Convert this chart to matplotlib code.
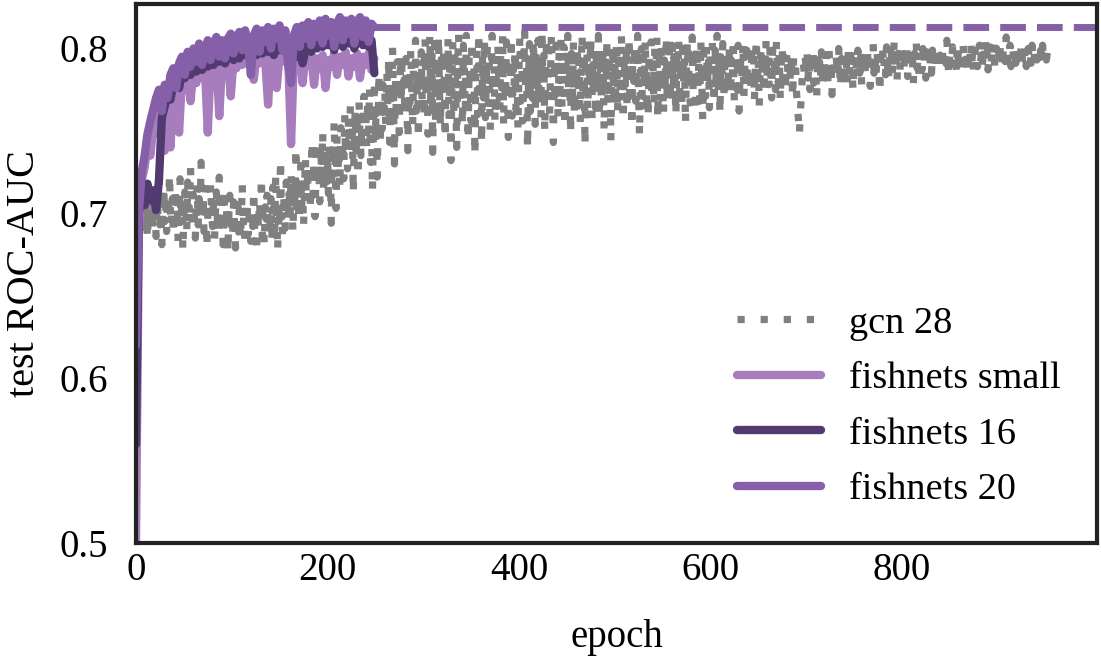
import numpy as np
import matplotlib.pyplot as plt

plt.rcParams['font.family'] = ['Liberation Serif', 'DejaVu Serif']

# test ROC-AUC per epoch, gcn baseline (one value per epoch)
gcn_auc = [
    0.662, 0.681, 0.694, 0.688, 0.702, 0.697, 0.711, 0.693, 0.705, 0.689, 0.716, 0.698, 0.684, 0.707, 0.695, 0.719, 0.701, 0.690, 0.712, 0.696,
    0.703, 0.686, 0.714, 0.699, 0.722, 0.693, 0.708, 0.681, 0.702, 0.717, 0.695, 0.706, 0.689, 0.711, 0.698, 0.724, 0.701, 0.692, 0.709, 0.687,
    0.705, 0.716, 0.694, 0.710, 0.683, 0.700, 0.721, 0.697, 0.706, 0.677, 0.699, 0.713, 0.702, 0.688, 0.719, 0.696, 0.708, 0.728, 0.701, 0.690,
    0.711, 0.698, 0.685, 0.704, 0.717, 0.693, 0.709, 0.700, 0.731, 0.696, 0.712, 0.689, 0.703, 0.715, 0.679, 0.699, 0.707, 0.694, 0.718, 0.701,
    0.692, 0.706, 0.683, 0.700, 0.713, 0.697, 0.688, 0.722, 0.702, 0.694, 0.709, 0.681, 0.698, 0.715, 0.690, 0.704, 0.676, 0.699, 0.711, 0.693,
    0.700, 0.686, 0.707, 0.694, 0.679, 0.698, 0.712, 0.689, 0.702, 0.684, 0.696, 0.718, 0.691, 0.705, 0.680, 0.697, 0.708, 0.687, 0.699, 0.693,
    0.683, 0.701, 0.692, 0.714, 0.688, 0.697, 0.676, 0.703, 0.690, 0.708, 0.695, 0.722, 0.686, 0.699, 0.681, 0.704, 0.693, 0.711, 0.687, 0.700,
    0.694, 0.709, 0.685, 0.716, 0.698, 0.690, 0.724, 0.701, 0.677, 0.706, 0.693, 0.733, 0.699, 0.687, 0.712, 0.703, 0.691, 0.719, 0.708, 0.696,
    0.712, 0.699, 0.725, 0.704, 0.688, 0.717, 0.707, 0.740, 0.701, 0.721, 0.695, 0.713, 0.729, 0.703, 0.718, 0.692, 0.711, 0.734, 0.706, 0.722,
    0.715, 0.731, 0.702, 0.726, 0.744, 0.711, 0.733, 0.698, 0.724, 0.738, 0.716, 0.729, 0.707, 0.741, 0.722, 0.750, 0.713, 0.735, 0.727, 0.719,
    0.737, 0.712, 0.745, 0.729, 0.694, 0.741, 0.722, 0.756, 0.733, 0.703, 0.747, 0.726, 0.739, 0.715, 0.752, 0.731, 0.744, 0.721, 0.760, 0.736,
    0.749, 0.727, 0.758, 0.741, 0.766, 0.734, 0.752, 0.712, 0.745, 0.762, 0.738, 0.755, 0.722, 0.768, 0.747, 0.735, 0.759, 0.743, 0.771, 0.750,
    0.757, 0.739, 0.768, 0.748, 0.776, 0.731, 0.762, 0.713, 0.752, 0.781, 0.744, 0.766, 0.722, 0.759, 0.785, 0.741, 0.770, 0.751, 0.778, 0.763,
    0.774, 0.752, 0.786, 0.765, 0.795, 0.743, 0.779, 0.761, 0.801, 0.769, 0.730, 0.783, 0.757, 0.792, 0.775, 0.749, 0.788, 0.766, 0.797, 0.772,
    0.781, 0.759, 0.794, 0.770, 0.738, 0.786, 0.767, 0.800, 0.777, 0.752, 0.791, 0.773, 0.805, 0.762, 0.784, 0.745, 0.789, 0.776, 0.798, 0.768,
    0.792, 0.758, 0.806, 0.771, 0.799, 0.748, 0.785, 0.809, 0.763, 0.796, 0.737, 0.781, 0.803, 0.755, 0.790, 0.767, 0.808, 0.776, 0.752, 0.798,
    0.765, 0.801, 0.783, 0.745, 0.794, 0.771, 0.807, 0.757, 0.788, 0.732, 0.779, 0.804, 0.761, 0.797, 0.774, 0.740, 0.786, 0.809, 0.768, 0.793,
    0.778, 0.753, 0.802, 0.787, 0.762, 0.808, 0.773, 0.744, 0.795, 0.781, 0.756, 0.805, 0.769, 0.791, 0.735, 0.783, 0.799, 0.760, 0.810, 0.775,
    0.789, 0.742, 0.796, 0.770, 0.806, 0.758, 0.784, 0.801, 0.764, 0.792, 0.750, 0.779, 0.808, 0.772, 0.797, 0.755, 0.787, 0.766, 0.803, 0.780,
    0.761, 0.798, 0.776, 0.809, 0.753, 0.790, 0.769, 0.804, 0.782, 0.746, 0.795, 0.773, 0.807, 0.759, 0.788, 0.777, 0.800, 0.763, 0.793, 0.751,
    0.786, 0.807, 0.768, 0.797, 0.756, 0.782, 0.810, 0.774, 0.791, 0.739, 0.779, 0.803, 0.762, 0.794, 0.770, 0.806, 0.785, 0.754, 0.799, 0.777,
    0.805, 0.767, 0.792, 0.758, 0.811, 0.780, 0.796, 0.749, 0.788, 0.807, 0.771, 0.799, 0.760, 0.784, 0.809, 0.775, 0.743, 0.793, 0.766, 0.802,
    0.781, 0.757, 0.798, 0.774, 0.806, 0.763, 0.789, 0.801, 0.752, 0.795, 0.778, 0.808, 0.769, 0.786, 0.748, 0.797, 0.772, 0.804, 0.760, 0.791,
    0.776, 0.802, 0.765, 0.793, 0.755, 0.787, 0.809, 0.770, 0.799, 0.741, 0.783, 0.805, 0.762, 0.794, 0.779, 0.807, 0.753, 0.790, 0.773, 0.800,
    0.764, 0.796, 0.783, 0.808, 0.758, 0.791, 0.771, 0.803, 0.786, 0.750, 0.797, 0.775, 0.806, 0.766, 0.789, 0.801, 0.744, 0.782, 0.798, 0.769,
    0.794, 0.772, 0.805, 0.760, 0.788, 0.799, 0.767, 0.809, 0.781, 0.756, 0.796, 0.776, 0.802, 0.763, 0.790, 0.807, 0.771, 0.785, 0.752, 0.797,
    0.780, 0.803, 0.768, 0.792, 0.808, 0.774, 0.747, 0.786, 0.800, 0.762, 0.795, 0.778, 0.806, 0.769, 0.789, 0.758, 0.798, 0.783, 0.804, 0.771,
    0.791, 0.765, 0.801, 0.779, 0.807, 0.757, 0.787, 0.796, 0.770, 0.805, 0.782, 0.760, 0.793, 0.776, 0.808, 0.766, 0.790, 0.799, 0.773, 0.784,
    0.802, 0.769, 0.795, 0.781, 0.759, 0.798, 0.786, 0.806, 0.772, 0.791, 0.763, 0.800, 0.778, 0.794, 0.754, 0.788, 0.804, 0.775, 0.797, 0.767,
    0.789, 0.807, 0.773, 0.796, 0.761, 0.784, 0.802, 0.777, 0.793, 0.768, 0.805, 0.782, 0.757, 0.798, 0.786, 0.771, 0.801, 0.779, 0.794, 0.764,
    0.797, 0.776, 0.804, 0.785, 0.766, 0.799, 0.781, 0.808, 0.772, 0.792, 0.760, 0.795, 0.783, 0.803, 0.769, 0.790, 0.778, 0.800, 0.774, 0.787,
    0.801, 0.771, 0.793, 0.782, 0.806, 0.767, 0.790, 0.798, 0.775, 0.802, 0.762, 0.786, 0.796, 0.779, 0.804, 0.770, 0.792, 0.784, 0.799, 0.776,
    0.788, 0.803, 0.774, 0.795, 0.781, 0.800, 0.768, 0.791, 0.806, 0.777, 0.794, 0.765, 0.789, 0.801, 0.783, 0.797, 0.772, 0.792, 0.805, 0.780,
    0.796, 0.778, 0.802, 0.786, 0.770, 0.799, 0.784, 0.793, 0.775, 0.804, 0.789, 0.779, 0.797, 0.768, 0.791, 0.801, 0.782, 0.795, 0.773, 0.787,
    0.798, 0.785, 0.792, 0.779, 0.794, 0.788, 0.770, 0.796, 0.783, 0.790, 0.773, 0.765, 0.756, 0.748, 0.762, 0.771, 0.783, 0.791, 0.786, 0.795,
    0.789, 0.797, 0.782, 0.793, 0.775, 0.791, 0.786, 0.800, 0.779, 0.794, 0.788, 0.770, 0.795, 0.784, 0.792, 0.781, 0.798, 0.787, 0.776, 0.793,
    0.785, 0.796, 0.790, 0.778, 0.799, 0.784, 0.792, 0.772, 0.795, 0.788, 0.781, 0.797, 0.791, 0.783, 0.800, 0.787, 0.776, 0.794, 0.789, 0.782,
    0.796, 0.786, 0.792, 0.779, 0.798, 0.790, 0.784, 0.801, 0.788, 0.774, 0.795, 0.787, 0.793, 0.781, 0.799, 0.791, 0.785, 0.797, 0.778, 0.794,
    0.788, 0.797, 0.783, 0.793, 0.800, 0.786, 0.791, 0.777, 0.796, 0.789, 0.803, 0.785, 0.794, 0.782, 0.798, 0.790, 0.787, 0.773, 0.795, 0.792,
    0.799, 0.787, 0.794, 0.784, 0.801, 0.791, 0.780, 0.796, 0.789, 0.798, 0.785, 0.793, 0.804, 0.788, 0.795, 0.781, 0.797, 0.790, 0.786, 0.800,
    0.792, 0.798, 0.786, 0.795, 0.789, 0.802, 0.783, 0.796, 0.791, 0.787, 0.799, 0.794, 0.779, 0.797, 0.790, 0.805, 0.788, 0.795, 0.784, 0.798,
    0.793, 0.787, 0.800, 0.791, 0.796, 0.782, 0.798, 0.790, 0.803, 0.788, 0.795, 0.785, 0.799, 0.792, 0.789, 0.801, 0.794, 0.786, 0.797, 0.791,
    0.796, 0.789, 0.802, 0.793, 0.787, 0.798, 0.791, 0.805, 0.795, 0.784, 0.799, 0.792, 0.788, 0.801, 0.794, 0.790, 0.797, 0.786, 0.803, 0.793,
    0.798, 0.791, 0.795, 0.788, 0.802, 0.794, 0.789, 0.800, 0.796, 0.785, 0.797, 0.792, 0.804, 0.790, 0.799, 0.787, 0.795, 0.801, 0.793, 0.789,
    0.797, 0.802, 0.791, 0.796, 0.788, 0.799, 0.794, 0.806, 0.792, 0.798, 0.787, 0.795, 0.801, 0.790, 0.797, 0.793, 0.803, 0.789, 0.796, 0.800,
    0.794, 0.799, 0.790, 0.803, 0.796, 0.788, 0.801, 0.795, 0.792, 0.807, 0.798, 0.791, 0.797, 0.802, 0.789, 0.796, 0.800, 0.793, 0.798, 0.791,
    0.799, 0.794, 0.802, 0.790, 0.797, 0.803, 0.792, 0.798, 0.795, 0.801, 0.789, 0.796, 0.800, 0.793, 0.797, 0.791, 0.802, 0.795, 0.799, 0.792,
    0.798, 0.793, 0.801, 0.796, 0.790, 0.799, 0.794, 0.802, 0.791, 0.797, 0.800, 0.793, 0.798, 0.795, 0.791,
]

# fishnets runs, logged every 3 epochs
fish_step = 3
fish_small = [
    0.500, 0.690, 0.720, 0.728, 0.741, 0.735, 0.752, 0.760, 0.748, 0.766,
    0.738, 0.770, 0.740, 0.772, 0.778, 0.749, 0.781, 0.775, 0.785, 0.768,
    0.787, 0.779, 0.790, 0.782, 0.788, 0.749, 0.791, 0.784, 0.793, 0.759,
    0.792, 0.786, 0.795, 0.771, 0.794, 0.788, 0.796, 0.790, 0.797, 0.792,
    0.795, 0.781, 0.797, 0.791, 0.798, 0.793, 0.766, 0.797, 0.790, 0.776,
    0.796, 0.792, 0.798, 0.794, 0.742, 0.796, 0.791, 0.798, 0.779, 0.795,
    0.790, 0.797, 0.778, 0.794, 0.788, 0.796, 0.776, 0.793, 0.789, 0.797,
    0.784, 0.795, 0.790, 0.798, 0.783, 0.794, 0.789, 0.797, 0.782, 0.795,
    0.790, 0.797, 0.787, 0.794,
]
fish_16 = [
    0.560, 0.700, 0.712, 0.705, 0.718, 0.708, 0.714, 0.702, 0.720, 0.758,
    0.765, 0.772, 0.769, 0.778, 0.781, 0.776, 0.785, 0.782, 0.788, 0.784,
    0.790, 0.786, 0.792, 0.787, 0.793, 0.789, 0.795, 0.790, 0.796, 0.792,
    0.797, 0.791, 0.795, 0.799, 0.793, 0.798, 0.794, 0.800, 0.796, 0.799,
    0.795, 0.800, 0.796, 0.801, 0.797, 0.802, 0.798, 0.801, 0.796, 0.803,
    0.799, 0.804, 0.798, 0.802, 0.797, 0.801, 0.795, 0.800, 0.791, 0.799,
    0.803, 0.798, 0.805, 0.800, 0.806, 0.801, 0.807, 0.802, 0.806, 0.799,
    0.805, 0.808, 0.801, 0.806, 0.803, 0.808, 0.800, 0.806, 0.809, 0.802,
    0.807, 0.801, 0.805, 0.785,
]
fish_20 = [
    0.620, 0.700, 0.725, 0.735, 0.748, 0.756, 0.763, 0.770, 0.775, 0.762,
    0.778, 0.770, 0.784, 0.788, 0.776, 0.791, 0.795, 0.784, 0.798, 0.789,
    0.800, 0.792, 0.803, 0.790, 0.798, 0.805, 0.793, 0.803, 0.807, 0.795,
    0.805, 0.794, 0.806, 0.809, 0.797, 0.807, 0.810, 0.799, 0.811, 0.803,
    0.784, 0.808, 0.812, 0.798, 0.811, 0.804, 0.813, 0.800, 0.812, 0.806,
    0.814, 0.799, 0.811, 0.790, 0.779, 0.808, 0.813, 0.801, 0.814, 0.806,
    0.816, 0.802, 0.815, 0.807, 0.817, 0.803, 0.818, 0.808, 0.816, 0.801,
    0.815, 0.819, 0.805, 0.817, 0.809, 0.818, 0.803, 0.816, 0.819, 0.807,
    0.817, 0.804, 0.815, 0.813,
]

labels = ['gcn 28', 'fishnets small', 'fishnets 16', 'fishnets 20']
colors = ['#808080', '#a87dbe', '#503a70', '#855fa8']

fig = plt.figure(figsize=(11.01, 6.6), dpi=100)
ax = fig.add_axes([0.1235, 0.177, 0.873, 0.817])

ax.plot(np.arange(len(gcn_auc)), gcn_auc, ls=(0, (1, 2.2)), lw=5.2,
        color=colors[0], label=labels[0])
for vals, lab, c in zip([fish_small, fish_16, fish_20], labels[1:], colors[1:]):
    ax.plot(np.arange(len(vals)) * fish_step, vals, lw=6, color=c, label=lab,
            solid_capstyle='round', solid_joinstyle='round')

# final fishnets 20 score carried across the rest of the run
xmax = 1004
last_ep = (len(fish_20) - 1) * fish_step
ax.plot([last_ep, xmax], [fish_20[-1], fish_20[-1]], ls='--', lw=5,
        color=colors[3])

ax.set_xlim(0, xmax)
ax.set_ylim(0.5, 0.827)
ax.set_xticks([0, 200, 400, 600, 800])
ax.set_yticks([0.5, 0.6, 0.7, 0.8])
ax.tick_params(length=0, labelsize=28)
ax.tick_params(axis='x', pad=6)
ax.tick_params(axis='y', pad=20)
for s in ax.spines.values():
    s.set_linewidth(3)
    s.set_color('#222222')

ax.set_xlabel('epoch', fontsize=28, labelpad=22)
ax.set_ylabel('test ROC-AUC', fontsize=29, labelpad=12)

ax.legend(loc='lower right', frameon=False, fontsize=27.5, handlelength=2.2,
          handletextpad=0.73, labelspacing=0.54, borderaxespad=0.55)

fig.savefig('out.png', dpi=100)
